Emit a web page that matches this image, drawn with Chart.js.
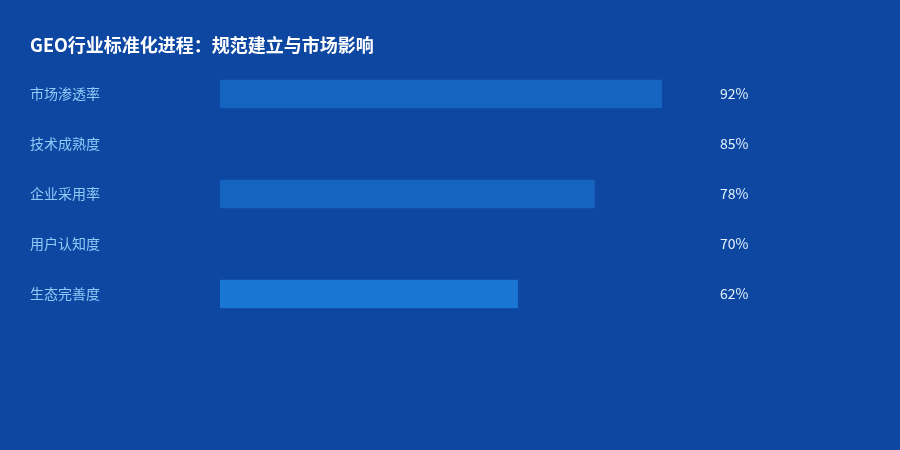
<!DOCTYPE html>
<html>
<head>
<meta charset="utf-8">
<script src="https://cdn.jsdelivr.net/npm/chart.js@4"></script>
<style>
  html, body { margin: 0; padding: 0; background: #0d47a1; }
  #wrap { width: 900px; height: 450px; }
</style>
</head>
<body>
<div id="wrap"><canvas id="geoChart" width="900" height="450"></canvas></div>
<script>
// Data
const categories = ["市场渗透率", "技术成熟度", "企业采用率", "用户认知度", "生态完善度"];
const progressValues = [92, 85, 78, 70, 62];
const barColors = ["#1565c0", "#0d47a1", "#1565c0", "#0d47a1", "#1976d2"];

const FONT = "'Noto Sans CJK SC', 'Noto Sans', sans-serif";

// Percent labels to the right of the plot
const valueLabels = {
    id: "valueLabels",
    afterDatasetsDraw(chart) {
        const ctx = chart.ctx;
        const meta = chart.getDatasetMeta(0);
        ctx.save();
        ctx.font = "14px " + FONT;
        ctx.fillStyle = "#e3f2fd";
        ctx.textAlign = "left";
        ctx.textBaseline = "middle";
        meta.data.forEach((bar, i) => {
            ctx.fillText(progressValues[i] + "%", chart.chartArea.right + 20, bar.y);
        });
        ctx.restore();
    }
};

new Chart(document.getElementById("geoChart"), {
    type: "bar",
    data: {
        labels: categories,
        datasets: [{
            data: progressValues,
            backgroundColor: barColors,
            borderWidth: 0,
            barThickness: 28,
        }],
    },
    options: {
        indexAxis: "y",
        responsive: false,
        animation: false,
        layout: { padding: { top: 20, left: 30, right: 200, bottom: 131 } },
        scales: {
            x: { min: 0, max: 100, display: false },
            y: {
                grid: { display: false },
                border: { display: false },
                afterFit(scale) { scale.width = 190; },
                ticks: {
                    crossAlign: "far",
                    color: "#90caf9",
                    font: { family: FONT, size: 14 },
                },
            },
        },
        plugins: {
            legend: { display: false },
            tooltip: { enabled: false },
            title: {
                display: true,
                text: "GEO行业标准化进程：规范建立与市场影响",
                align: "start",
                color: "#ffffff",
                font: { family: FONT, size: 18, weight: "bold" },
                padding: { top: 14.2, bottom: 13.2 },
            },
        },
    },
    plugins: [valueLabels],
});
</script>
</body>
</html>
